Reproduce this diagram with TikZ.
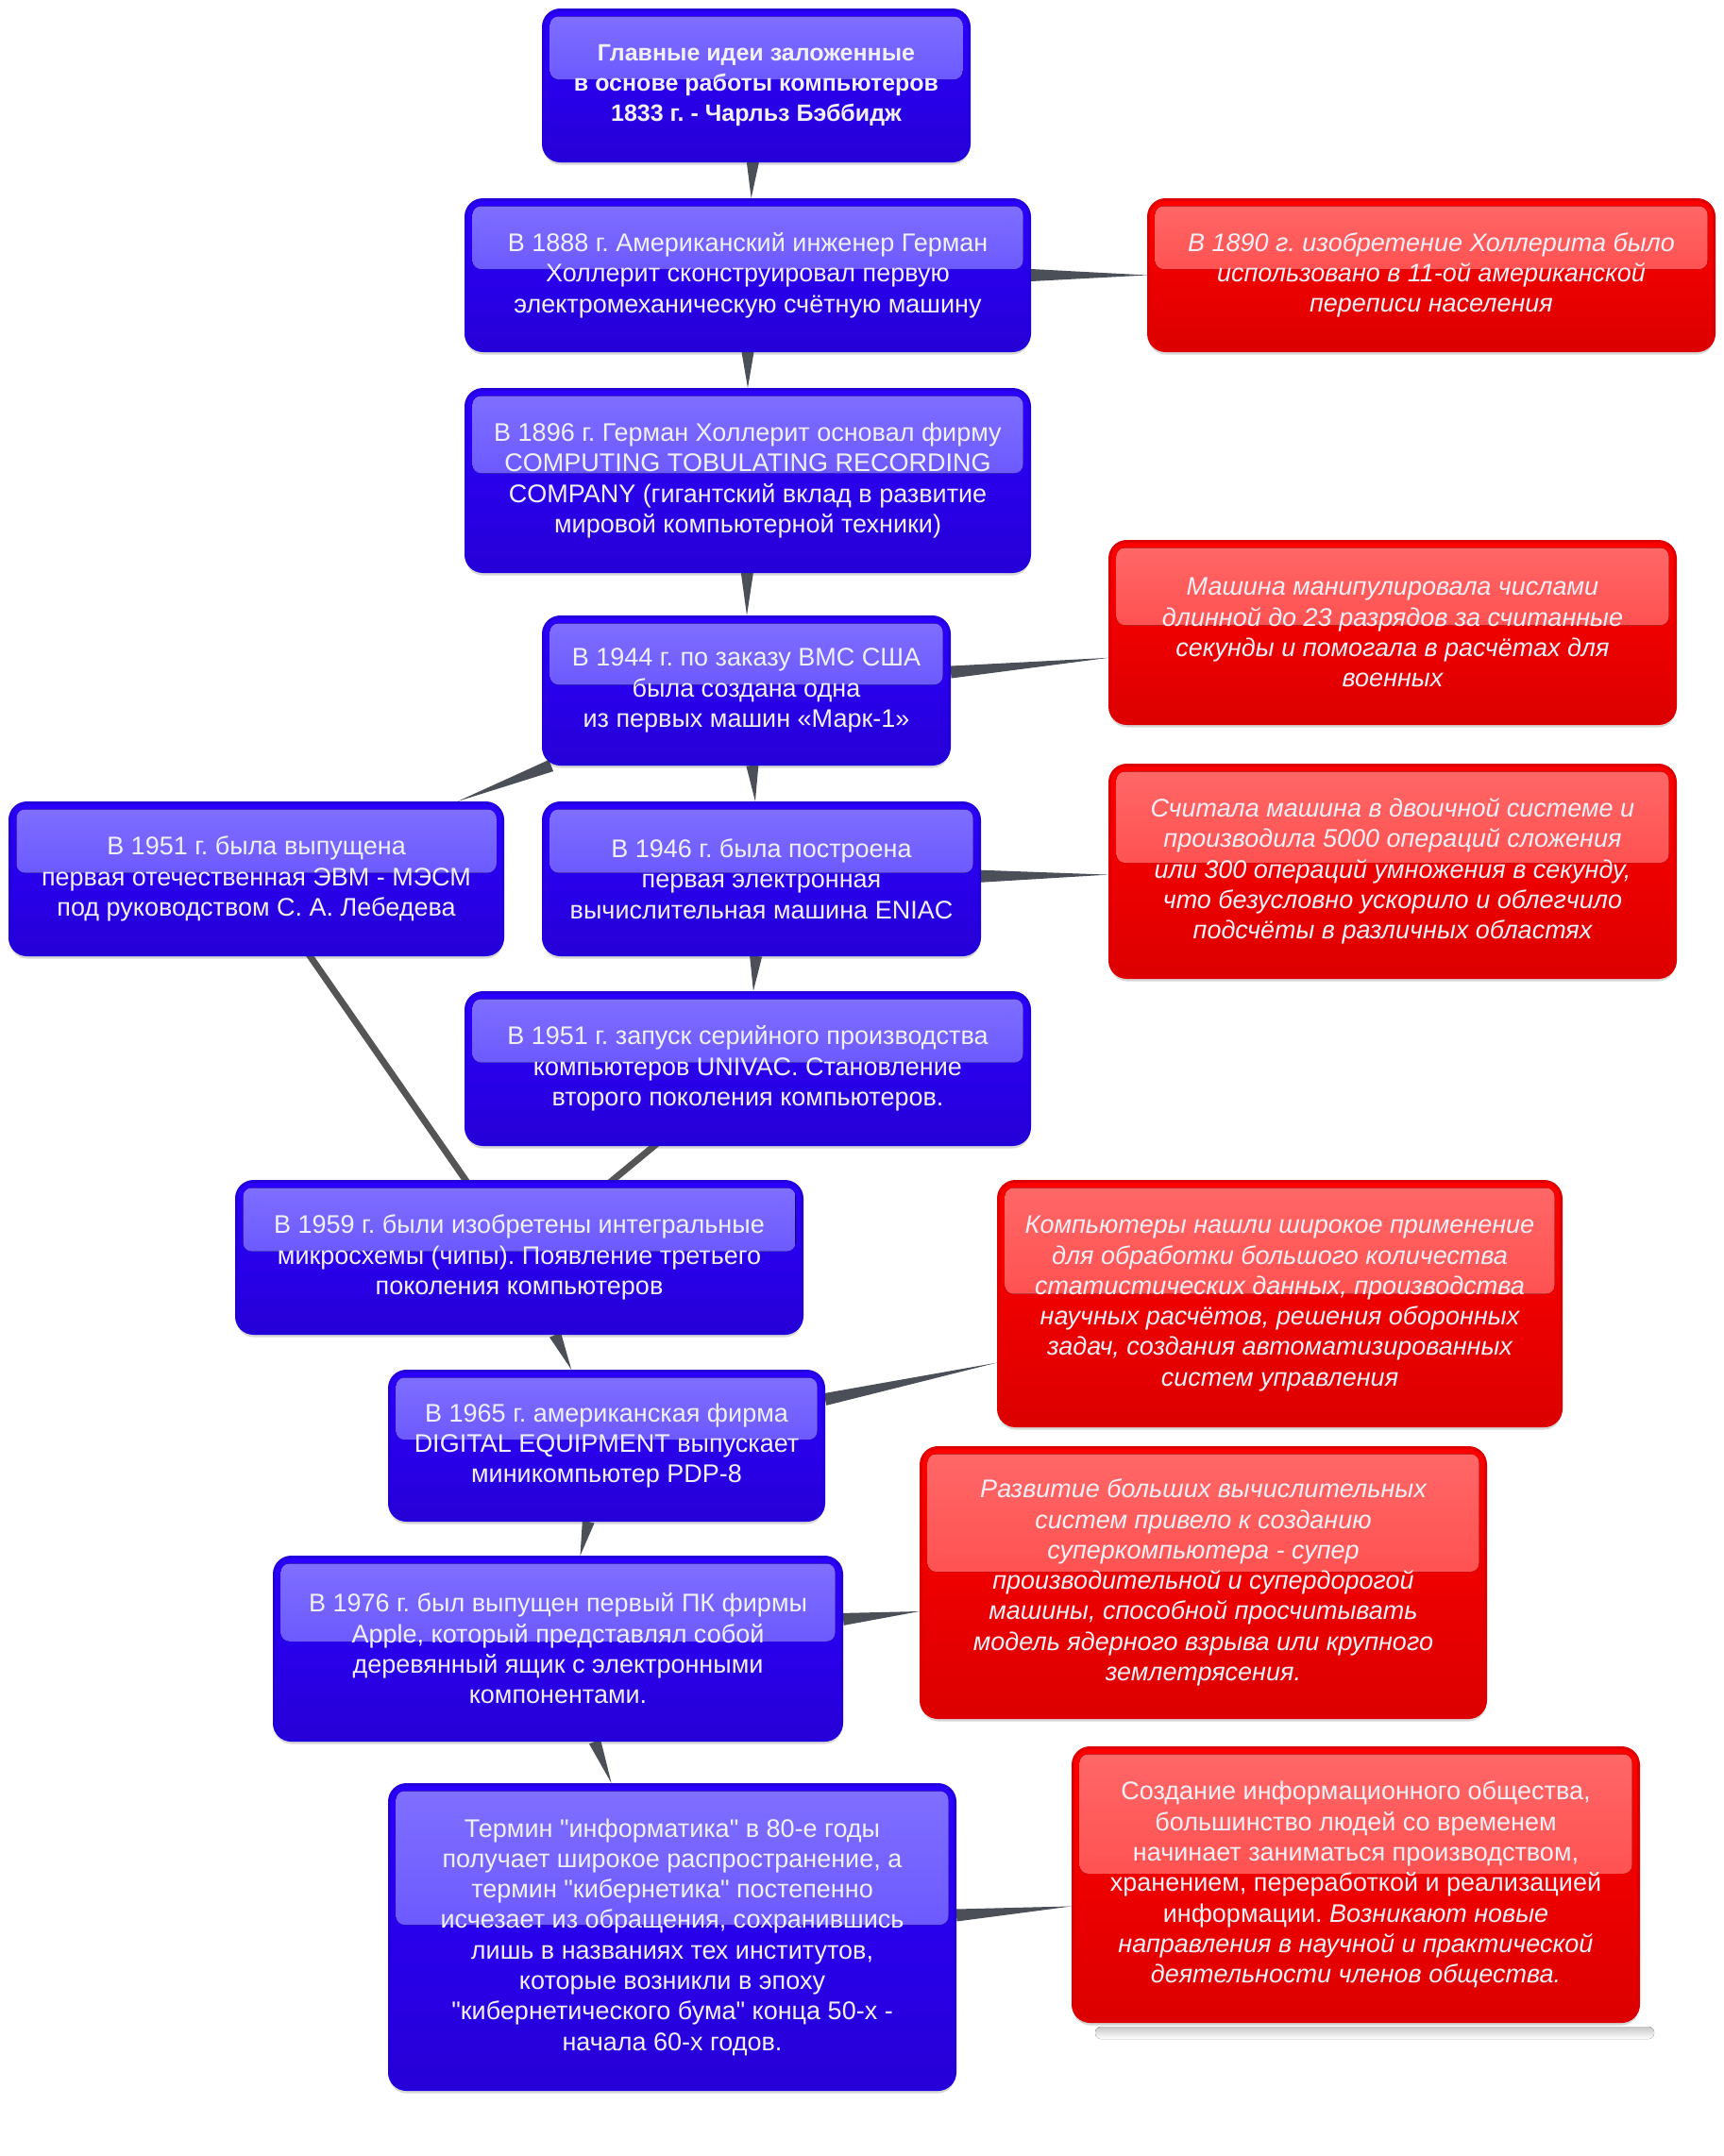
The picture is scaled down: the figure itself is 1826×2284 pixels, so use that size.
\documentclass[tikz,border=0pt]{standalone}
\usepackage{fontspec}
\setmainfont{Liberation Sans}[Ligatures=TeXOff]
\usetikzlibrary{calc,shadows}
\pgfdeclarelayer{back}
\pgfdeclarelayer{bg}
\pgfsetlayers{back,bg,main}
\definecolor{bborder}{RGB}{34,0,222}
\definecolor{btop}{RGB}{44,0,255}
\definecolor{bbot}{RGB}{38,0,214}
\definecolor{bhltop}{RGB}{128,112,255}
\definecolor{bhlbot}{RGB}{86,64,255}
\definecolor{rborder}{RGB}{222,0,0}
\definecolor{rtop}{RGB}{255,0,0}
\definecolor{rbot}{RGB}{220,0,0}
\definecolor{rhltop}{RGB}{255,104,104}
\definecolor{rhlbot}{RGB}{255,56,56}
\definecolor{txt}{RGB}{240,240,246}
\definecolor{conn}{RGB}{74,79,88}
\definecolor{connline}{RGB}{85,85,85}
\tikzset{
  sz/.style 2 args={minimum width=#1pt, minimum height=#2pt},
  boxbase/.style={rounded corners=18pt, line width=3pt, align=center, text=txt,
    font=\fontsize{27}{32.3}\selectfont, inner sep=0pt,
    drop shadow={shadow xshift=0pt, shadow yshift=-4pt, opacity=0.22, fill=black!70}},
  bluebox/.style={boxbase, draw=bborder, top color=btop, middle color=btop, bottom color=bbot,
    path picture={\fill[rounded corners=9pt, top color=bhltop, bottom color=bhlbot]
      ([xshift=7pt,yshift=-7pt]path picture bounding box.north west) rectangle
      ($(path picture bounding box.north east)!0.46!(path picture bounding box.south east)+(-7pt,0)$);}},
  redbox/.style={boxbase, draw=rborder, top color=rtop, middle color=rtop, bottom color=rbot,
    font=\fontsize{27}{32.3}\selectfont\itshape,
    path picture={\fill[rounded corners=9pt, top color=rhltop, bottom color=rhlbot]
      ([xshift=7pt,yshift=-7pt]path picture bounding box.north west) rectangle
      ($(path picture bounding box.north east)!0.46!(path picture bounding box.south east)+(-7pt,0)$);}},
  thickconn/.style={draw=connline, line width=7pt},
}
\newcommand\conwedge[2]{%
  \path (#1) -- (#2) coordinate[pos=0] (wA) coordinate[pos=1] (wB);
  \fill[conn] ($(wA)!6.5pt!90:(wB)$) -- (wB) -- ($(wA)!6.5pt!-90:(wB)$) -- cycle;}
\frenchspacing
\begin{document}
\begin{tikzpicture}[x=1pt,y=-1pt]
\useasboundingbox (0,0) rectangle (1826,2284);
\begin{pgfonlayer}{back}
\fill[white] (0,0) rectangle (1826,2284);
\end{pgfonlayer}

\node[bluebox, sz={451}{160}, font=\fontsize{25}{32.3}\selectfont\bfseries] (top) at (801,90.5)
  {Главные идеи заложенные\\в основе работы компьютеров\\1833 г. - Чарльз Бэббидж};
\node[bluebox, sz={597}{160}] (b1888) at (792,291.5)
  {В 1888 г. Американский инженер Герман\\Холлерит сконструировал первую\\электромеханическую счётную машину};
\node[redbox, sz={599}{160}] (r1890) at (1516,291.5)
  {В 1890 г. изобретение Холлерита было\\использовано в 11-ой американской\\переписи населения};
\node[bluebox, sz={597}{193}] (b1896) at (792,509)
  {В 1896 г. Герман Холлерит основал фирму\\COMPUTING TOBULATING RECORDING\\COMPANY (гигантский вклад в развитие\\мировой компьютерной техники)};
\node[bluebox, sz={430}{156}] (b1944) at (790.5,731.5)
  {В 1944 г. по заказу ВМС США\\была создана одна\\из первых машин «Марк-1»};
\node[redbox, sz={599}{193}] (rMark) at (1475,670)
  {Машина манипулировала числами\\длинной до 23 разрядов за считанные\\секунды и помогала в расчётах для\\военных};
\node[bluebox, sz={522}{161}] (bMESM) at (271.5,931)
  {В 1951 г. была выпущена\\первая отечественная ЭВМ - МЭСМ\\под руководством С. А. Лебедева};
\node[bluebox, sz={462}{161}] (bENIAC) at (806.5,931)
  {В 1946 г. была построена\\первая электронная\\вычислительная машина ENIAC};
\node[redbox, sz={599}{225}] (rENIAC) at (1475,923)
  {Считала машина в двоичной системе и\\производила 5000 операций сложения\\или 300 операций умножения в секунду,\\что безусловно ускорило и облегчило\\подсчёты в различных областях};
\node[bluebox, sz={597}{161}] (bUNIVAC) at (792,1132)
  {В 1951 г. запуск серийного производства\\компьютеров UNIVAC. Становление\\второго поколения компьютеров.};
\node[bluebox, sz={599}{161}] (b1959) at (550,1332)
  {В 1959 г. были изобретены интегральные\\микросхемы (чипы). Появление третьего\\поколения компьютеров};
\node[redbox, sz={596}{259}] (rComp) at (1355.5,1381)
  {Компьютеры нашли широкое применение\\для обработки большого количества\\статистических данных, производства\\научных расчётов, решения оборонных\\задач, создания автоматизированных\\систем управления};
\node[bluebox, sz={460}{158}] (b1965) at (642.5,1531.5)
  {В 1965 г. американская фирма\\DIGITAL EQUIPMENT выпускает\\миникомпьютер PDP-8};
\node[redbox, sz={598}{286}] (rSuper) at (1274.5,1676.5)
  {Развитие больших вычислительных\\систем привело к созданию\\суперкомпьютера - супер\\производительной и супердорогой\\машины, способной просчитывать\\модель ядерного взрыва или крупного\\землетрясения.};
\node[bluebox, sz={601}{194}] (b1976) at (591,1746.5)
  {В 1976 г. был выпущен первый ПК фирмы\\Apple, который представлял собой\\деревянный ящик с электронными\\компонентами.};
\node[bluebox, sz={599}{323}] (bTermin) at (712,2052)
  {Термин "информатика" в 80-е годы\\получает широкое распространение, а\\термин "кибернетика" постепенно\\исчезает из обращения, сохранившись\\лишь в названиях тех институтов,\\которые возникли в эпоху\\"кибернетического бума" конца 50-х -\\начала 60-х годов.};
\node[redbox, sz={599}{290}, font=\fontsize{27}{32.3}\selectfont] (rInfo) at (1436,1996.5)
  {Создание информационного общества,\\большинство людей со временем\\начинает заниматься производством,\\хранением, переработкой и реализацией\\информации. \textit{Возникают новые}\\\textit{направления в научной и практической}\\\textit{деятельности членов общества.}};

\fill[top color=black!22, bottom color=white, rounded corners=6pt] (1160,2147) rectangle (1752,2160);

\begin{pgfonlayer}{bg}
  \conwedge{top}{b1888}
  \conwedge{b1888}{r1890}
  \conwedge{b1888}{b1896}
  \conwedge{b1896}{b1944}
  \conwedge{b1944}{rMark}
  \conwedge{b1944}{bMESM}
  \conwedge{b1944}{bENIAC}
  \conwedge{bENIAC}{rENIAC}
  \conwedge{bENIAC}{bUNIVAC}
  \draw[thickconn] (bMESM.center) -- (b1959.center);
  \draw[thickconn] (bUNIVAC.center) -- (b1959.center);
  \conwedge{b1959}{b1965}
  \conwedge{b1965}{rComp}
  \conwedge{b1965}{b1976}
  \conwedge{b1976}{rSuper}
  \conwedge{b1976}{bTermin}
  \conwedge{bTermin}{rInfo}
\end{pgfonlayer}
\end{tikzpicture}
\end{document}
